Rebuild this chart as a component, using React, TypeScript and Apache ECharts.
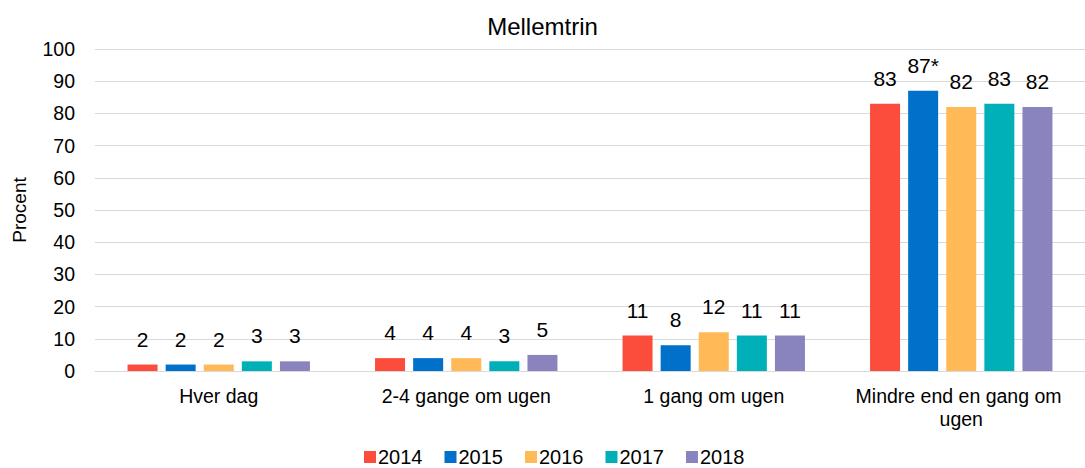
import React, { useEffect, useRef } from "react";
import * as echarts from "echarts";

const categories = ["Hver dag", "2-4 gange om ugen", "1 gang om ugen", "Mindre end en gang om ugen"];
const years = ["2014", "2015", "2016", "2017", "2018"];
const v2014 = [2, 4, 11, 83];
const v2015 = [2, 4, 8, 87];
const v2016 = [2, 4, 12, 82];
const v2017 = [3, 3, 11, 83];
const v2018 = [3, 5, 11, 82];
const labels2015 = ["2", "4", "8", "87*"];
const colors = ["#FC4C3C", "#0070CA", "#FFB957", "#00B0B8", "#8984BE"];

export default function App() {
  const ref = useRef<HTMLDivElement>(null);
  useEffect(() => {
    if (!ref.current) return;
    const chart = echarts.init(ref.current, null, { renderer: "svg" });
    const valuesList = [v2014, v2015, v2016, v2017, v2018];
    const font = "Arial, 'Liberation Sans', sans-serif";
    chart.setOption({
      animation: false,
      textStyle: { fontFamily: font },
      title: {
        text: "Mellemtrin",
        left: "center",
        top: 9,
        textStyle: { fontSize: 24, fontWeight: "normal", color: "#000", fontFamily: font },
      },
      legend: {
        top: 442,
        left: 359,
        itemWidth: 12,
        itemHeight: 12,
        itemGap: 22,
        icon: "rect",
        textStyle: { fontSize: 20, color: "#000", fontFamily: font, padding: [0, 0, 0, -3] },
        data: years,
      },
      grid: { left: 95, right: 0, top: 49, bottom: 97, containLabel: false },
      xAxis: {
        type: "category",
        data: categories,
        axisLine: { lineStyle: { color: "#d9d9d9" } },
        axisTick: { show: false },
        axisLabel: {
          interval: 0,
          fontSize: 19.5,
          color: "#000",
          margin: 13,
          width: 232,
          overflow: "break",
          lineHeight: 23,
          fontFamily: font,
        },
      },
      yAxis: {
        type: "value",
        min: 0,
        max: 100,
        interval: 10,
        name: "Procent",
        nameLocation: "middle",
        nameGap: 66,
        nameRotate: 90,
        nameTextStyle: { fontSize: 19, color: "#000", fontFamily: font },
        axisLine: { show: false },
        axisTick: { show: false },
        axisLabel: { fontSize: 19.5, color: "#000", margin: 20, fontFamily: font },
        splitLine: { lineStyle: { color: "#d9d9d9" } },
      },
      series: years.map((y, i) => ({
        name: y,
        type: "bar",
        data: valuesList[i],
        itemStyle: { color: colors[i] },
        barWidth: 30,
        barGap: "27%",
        barCategoryGap: "26.5%",
        label: {
          show: true,
          position: "top",
          distance: 15,
          fontSize: 21,
          color: "#000",
          fontFamily: font,
          formatter: (p: any) => (i === 1 ? labels2015[p.dataIndex] : String(p.value)),
        },
      })),
    });
    return () => chart.dispose();
  }, []);
  return (
    <div
      ref={ref}
      style={{ position: "absolute", left: 0, top: 0, width: 1085, height: 468 }}
    />
  );
}
